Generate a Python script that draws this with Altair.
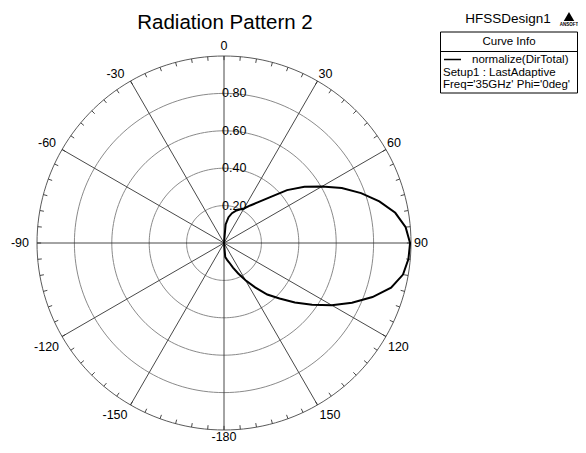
import numpy as np
import pandas as pd
import altair as alt

# ---------------- data ----------------
TITLE = "Radiation Pattern 2"
DESIGN = "HFSSDesign1"
CURVE_INFO = "Curve Info"
TRACE_NAME = "normalize(DirTotal)"
SETUP = "Setup1 : LastAdaptive"
SWEEP = "Freq='35GHz' Phi='0deg'"

# pattern angles (deg, 0 = top, clockwise positive)
THETA_DEG = list(range(-180, 181, 5))
# back side (-180 .. -5): essentially zero
R_BACK = [0.0] * 36
# front side (0 .. 180)
R_FRONT = [0.00, 0.10, 0.14, 0.165, 0.183, 0.198, 0.213, 0.245, 0.285, 0.345,
           0.44, 0.525, 0.605, 0.695, 0.78, 0.86, 0.93, 0.975, 0.995,
           0.99, 0.972, 0.925, 0.845, 0.755, 0.665, 0.575, 0.495, 0.42,
           0.36, 0.29, 0.23, 0.18, 0.14, 0.108, 0.09, 0.075, 0.0]
R_VALUES = R_BACK + R_FRONT

RING_VALUES = [0.2, 0.4, 0.6, 0.8]
RING_LABELS = ["0.20", "0.40", "0.60", "0.80"]
SPOKE_ANGLES = [0, 30, 60, 90, 120, 150, 180, -150, -120, -90, -60, -30]
ANGLE_LABELS = ["0", "30", "60", "90", "120", "150", "-180", "-150", "-120", "-90", "-60", "-30"]

# ---------------- geometry ----------------
PX = 187.0              # pixels per unit radius
W, H = 570, 437
CX, CY = 224 - 8, 243 - 8
xs = alt.Scale(domain=[-CX / PX, (W - CX) / PX], nice=False, zero=False)
ys = alt.Scale(domain=[-(H - CY) / PX, CY / PX], nice=False, zero=False)
FONT = "Liberation Sans"


def ux(px):
    return (px - 224) / PX


def vy(py):
    return (243 - py) / PX


def XY(xf="x", yf="y"):
    return dict(x=alt.X(f"{xf}:Q", scale=xs, axis=None),
                y=alt.Y(f"{yf}:Q", scale=ys, axis=None))


# rings
rows = []
for k, r in enumerate(RING_VALUES + [1.0]):
    for i, a in enumerate(range(0, 361, 2)):
        t = np.radians(a)
        rows.append({"ring": k, "i": i, "x": r * np.sin(t), "y": r * np.cos(t), "outer": r == 1.0})
ring_df = pd.DataFrame(rows)

inner_rings = alt.Chart(ring_df[~ring_df.outer]).mark_line(color="#8a8a8a", strokeWidth=1).encode(
    **XY(), detail="ring:N", order="i:Q")
outer_ring = alt.Chart(ring_df[ring_df.outer]).mark_line(color="#5a5a5a", strokeWidth=1).encode(
    **XY(), detail="ring:N", order="i:Q")

# spokes
sp = pd.DataFrame({"a": SPOKE_ANGLES})
sp["x"] = 0.0
sp["y"] = 0.0
sp["x2"] = np.sin(np.radians(sp.a))
sp["y2"] = np.cos(np.radians(sp.a))
spokes = alt.Chart(sp).mark_rule(color="#333333", strokeWidth=0.9).encode(
    **XY(), x2="x2:Q", y2="y2:Q")

# ticks every 5 degrees
tk = pd.DataFrame({"a": list(range(0, 360, 5))})
tk["x"] = 0.978 * np.sin(np.radians(tk.a))
tk["y"] = 0.978 * np.cos(np.radians(tk.a))
tk["x2"] = np.sin(np.radians(tk.a))
tk["y2"] = np.cos(np.radians(tk.a))
ticks = alt.Chart(tk).mark_rule(color="#333333", strokeWidth=0.9).encode(
    **XY(), x2="x2:Q", y2="y2:Q")

# radial labels
rl = pd.DataFrame({"x": [0.0] * 4, "y": RING_VALUES, "label": RING_LABELS})
ring_text = alt.Chart(rl).mark_text(align="left", baseline="middle", dx=-2, font=FONT,
                                    fontSize=12.5, fill="#000000", opacity=1).encode(
    x=alt.X("x:Q", scale=xs, axis=None), y=alt.Y("y:Q", scale=ys, axis=None),
    text=alt.Text("label:N"))

# angle labels
al = pd.DataFrame({"a": SPOKE_ANGLES, "label": ANGLE_LABELS})
al["x"] = np.sin(np.radians(al.a))
al["y"] = np.cos(np.radians(al.a))


def grp(angles, **kw):
    d = al[al.a.isin(angles)]
    return alt.Chart(d).mark_text(font=FONT, fontSize=12.5, fill="black", **kw).encode(
        **XY(), text="label:N")


angle_text = [
    grp([0], align="center", baseline="bottom", dy=-3),
    grp([180], align="center", baseline="top", dy=1),
    grp([30, 60], align="left", baseline="bottom", dx=1),
    grp([-30, -60], align="right", baseline="bottom", dx=-6),
    grp([90], align="left", baseline="middle", dx=3),
    grp([-90], align="right", baseline="middle", dx=-8),
    grp([120, 150], align="left", baseline="top", dx=2, dy=4),
    grp([-120, -150], align="right", baseline="top", dx=-3, dy=4),
]

# pattern curve
cv = pd.DataFrame({"theta": THETA_DEG, "r": R_VALUES})
cv["order"] = range(len(cv))
cv["x"] = cv.r * np.sin(np.radians(cv.theta))
cv["y"] = cv.r * np.cos(np.radians(cv.theta))
curve = alt.Chart(cv).mark_line(color="black", strokeWidth=2).encode(**XY(), order="order:Q")

# title
title = alt.Chart(pd.DataFrame({"x": [ux(225)], "y": [vy(29)], "t": [TITLE]})).mark_text(
    font=FONT, fontSize=20.5, align="center", baseline="alphabetic", fill="black").encode(
    **XY(), text="t:N")

# legend block
design = alt.Chart(pd.DataFrame({"x": [ux(508)], "y": [vy(19)], "t": [DESIGN]})).mark_text(
    font=FONT, fontSize=13.5, align="center", baseline="middle", fill="black").encode(
    **XY(), text="t:N")
logo = alt.Chart(pd.DataFrame({"x": [ux(569)], "y": [vy(16.5)]})).mark_point(
    shape="triangle-up", filled=True, color="black", size=110, opacity=1).encode(**XY())
logo_t = alt.Chart(pd.DataFrame({"x": [ux(569)], "y": [vy(25)], "t": ["ANSOFT"]})).mark_text(
    font=FONT, fontSize=4.5, fontWeight="bold", align="center", baseline="middle", fill="black").encode(
    **XY(), text="t:N")
box = alt.Chart(pd.DataFrame({"x": [ux(440.5)], "x2": [ux(577.5)], "y": [vy(32)], "y2": [vy(93)]})).mark_rect(
    fill="white", stroke="black", strokeWidth=1).encode(**XY(), x2="x2:Q", y2="y2:Q")
divider = alt.Chart(pd.DataFrame({"x": [ux(440.5)], "x2": [ux(577.5)], "y": [vy(51.5)]})).mark_rule(
    color="black", strokeWidth=1).encode(**XY(), x2="x2:Q")
sample = alt.Chart(pd.DataFrame({"x": [ux(444)], "x2": [ux(461)], "y": [vy(59.5)]})).mark_rule(
    color="black", strokeWidth=1.5).encode(**XY(), x2="x2:Q")
info = alt.Chart(pd.DataFrame({"x": [ux(509)], "y": [vy(42)], "t": [CURVE_INFO]})).mark_text(
    font=FONT, fontSize=11.5, align="center", baseline="middle", fill="black").encode(**XY(), text="t:N")
leg_rows = pd.DataFrame({"x": [ux(472), ux(443), ux(443)], "y": [vy(59.5), vy(72.5), vy(85)],
                         "t": [TRACE_NAME, SETUP, SWEEP]})
leg_text = alt.Chart(leg_rows).mark_text(font=FONT, fontSize=11.5, align="left", baseline="middle",
                                         fill="black").encode(**XY(), text="t:N")

chart = alt.layer(
    inner_rings, outer_ring, ticks, spokes, *angle_text, curve, title,
    design, logo, logo_t, box, divider, sample, info, leg_text, ring_text
).properties(
    width=W, height=H, padding=0, autosize=alt.AutoSizeParams(type="none"), background="white"
).configure_view(stroke=None)

chart.save("out.html", embed_options={"renderer": "svg", "actions": False})
